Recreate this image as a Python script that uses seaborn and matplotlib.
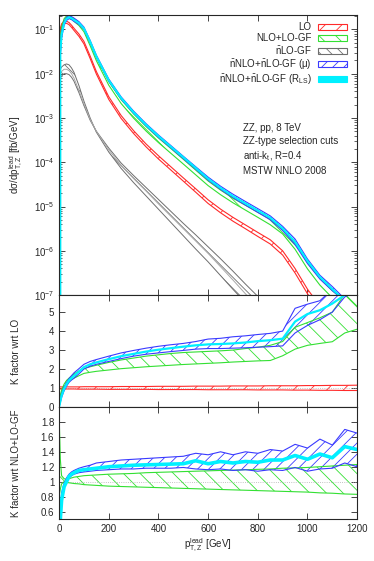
import matplotlib
matplotlib.use("Agg")
import numpy as np
import matplotlib.pyplot as plt
import matplotlib.patches as mpatches
import matplotlib.ticker as mticker
import seaborn as sns

sns.set_style("ticks")
plt.rcParams["font.family"] = ["Liberation Sans", "DejaVu Sans"]
plt.rcParams["font.size"] = 7
plt.rcParams["mathtext.default"] = "regular"
plt.rcParams["hatch.linewidth"] = 0.6

# pT of leading Z [GeV]
pt = [0, 5, 10, 20, 30, 40, 50, 60, 80, 100, 125, 150, 200, 250, 300, 350, 400,
      450, 500, 550, 600, 650, 700, 750, 800, 850, 900, 950, 1000, 1050, 1100, 1150, 1200]

# LO central, log10 of dsigma/dpT [fb/GeV]
lo_log = [-1.35, -1.0, -0.9, -0.84, -0.84, -0.87, -0.93, -1.0, -1.13, -1.3, -1.63, -1.98,
          -2.55, -2.98, -3.32, -3.62, -3.89, -4.14, -4.39, -4.64, -4.89, -5.1, -5.29, -5.46,
          -5.63, -5.8, -6.05, -6.45, -6.92, -7.3, -7.6, -7.9, -8.2]

# nLO-GF (gray), log10 values: central and two scale edges
gf_c = [-2.05, -2.0, -1.95, -1.9, -1.9, -1.93, -2.0, -2.1, -2.38, -2.68, -3.03, -3.3,
        -3.72, -4.07, -4.37, -4.65, -4.94, -5.22, -5.5, -5.78, -6.06, -6.36, -6.66, -6.97,
        -7.27, -7.57, -7.87, -8.17, -8.47, -8.77, -9.07, -9.37, -9.67]
gf_a = [-1.98, -1.9, -1.85, -1.8, -1.78, -1.8, -1.87, -1.97, -2.27, -2.62, -3.0, -3.32,
        -3.77, -4.14, -4.46, -4.76, -5.06, -5.36, -5.66, -5.96, -6.25, -6.56, -6.87, -7.17,
        -7.47, -7.77, -8.07, -8.37, -8.67, -8.97, -9.27, -9.57, -9.87]
gf_b = [-2.15, -2.1, -2.05, -2.0, -2.0, -2.02, -2.08, -2.17, -2.43, -2.72, -3.05, -3.3,
        -3.68, -4.02, -4.3, -4.57, -4.84, -5.11, -5.38, -5.64, -5.91, -6.18, -6.46, -6.75,
        -7.03, -7.3, -7.58, -7.86, -8.14, -8.42, -8.7, -8.98, -9.26]

# K factor wrt LO (middle panel)
lo_hi = [1.06, 1.06, 1.06, 1.06, 1.06, 1.06, 1.06, 1.06, 1.06, 1.07, 1.07, 1.07, 1.07, 1.08,
         1.08, 1.08, 1.09, 1.09, 1.09, 1.1, 1.1, 1.1, 1.11, 1.11, 1.11, 1.12, 1.12, 1.12,
         1.13, 1.13, 1.14, 1.14, 1.15]
lo_lo = [0.95, 0.95, 0.95, 0.95, 0.95, 0.95, 0.95, 0.95, 0.94, 0.94, 0.94, 0.94, 0.93, 0.93,
         0.93, 0.93, 0.92, 0.92, 0.92, 0.92, 0.91, 0.91, 0.91, 0.91, 0.9, 0.9, 0.9, 0.89,
         0.89, 0.88, 0.88, 0.87, 0.87]
nlo_hi = [0.3, 0.6, 0.9, 1.2, 1.4, 1.52, 1.63, 1.74, 1.9, 2.03, 2.12, 2.2, 2.35, 2.48, 2.58,
          2.68, 2.75, 2.82, 2.87, 2.9, 2.93, 2.96, 3.0, 3.08, 3.15, 3.25, 3.45, 4.2, 4.45,
          4.7, 5.0, 5.95, 5.3]
nlo_lo = [0.3, 0.55, 0.8, 1.05, 1.25, 1.36, 1.45, 1.52, 1.65, 1.77, 1.83, 1.88, 1.95, 2.02,
          2.07, 2.12, 2.16, 2.2, 2.24, 2.27, 2.3, 2.33, 2.37, 2.4, 2.43, 2.45, 2.7, 3.05,
          3.25, 3.35, 3.44, 3.9, 4.1]
mu_hi = [0.0, 0.35, 0.7, 1.05, 1.3, 1.5, 1.65, 1.8, 2.02, 2.25, 2.4, 2.5, 2.68, 2.85, 2.98,
         3.1, 3.2, 3.28, 3.35, 3.45, 3.58, 3.62, 3.7, 3.75, 3.82, 3.88, 4.0, 5.2, 5.42, 5.6,
         6.2, 6.5, 6.8]
mu_lo = [0.0, 0.25, 0.5, 0.85, 1.1, 1.3, 1.42, 1.52, 1.75, 2.0, 2.15, 2.25, 2.4, 2.55, 2.68,
         2.78, 2.85, 2.92, 2.98, 3.05, 3.08, 3.08, 3.1, 3.12, 3.15, 3.18, 3.22, 3.9, 4.3,
         4.6, 5.0, 5.8, 6.1]
rls_k = [0.0, 0.3, 0.6, 0.95, 1.2, 1.4, 1.52, 1.64, 1.87, 2.1, 2.25, 2.35, 2.52, 2.68, 2.8,
         2.92, 3.02, 3.1, 3.18, 3.25, 3.3, 3.32, 3.35, 3.4, 3.47, 3.52, 3.6, 4.5, 4.9, 5.1,
         5.45, 5.9, 6.2]

# K factor wrt NLO+LO-GF (bottom panel)
r_nlo_hi = [1.9, 1.3, 1.08, 1.04, 1.03, 1.04, 1.05, 1.06, 1.07, 1.08, 1.085, 1.09, 1.1,
            1.105, 1.11, 1.12, 1.125, 1.13, 1.135, 1.14, 1.145, 1.15, 1.155, 1.16, 1.165,
            1.17, 1.18, 1.185, 1.19, 1.2, 1.21, 1.22, 1.23]
r_nlo_lo = [0.8, 0.9, 0.97, 1.0, 0.99, 0.985, 0.98, 0.975, 0.97, 0.96, 0.955, 0.95, 0.94,
            0.935, 0.93, 0.925, 0.92, 0.915, 0.91, 0.905, 0.9, 0.895, 0.89, 0.885, 0.88,
            0.875, 0.87, 0.865, 0.86, 0.85, 0.845, 0.835, 0.83]
r_mu_hi = [0.3, 0.6, 0.85, 0.98, 1.05, 1.1, 1.13, 1.15, 1.18, 1.2, 1.22, 1.25, 1.27, 1.29,
           1.3, 1.31, 1.32, 1.33, 1.34, 1.38, 1.36, 1.4, 1.36, 1.4, 1.38, 1.43, 1.41, 1.5,
           1.45, 1.57, 1.49, 1.7, 1.65]
r_mu_lo = [0.3, 0.5, 0.8, 0.95, 1.0, 1.05, 1.08, 1.1, 1.12, 1.13, 1.14, 1.15, 1.16, 1.17,
           1.17, 1.18, 1.18, 1.18, 1.19, 1.17, 1.16, 1.17, 1.15, 1.16, 1.14, 1.16, 1.15, 1.19,
           1.14, 1.17, 1.18, 1.25, 1.2]
r_rls = [0.2, 0.5, 0.75, 0.93, 1.0, 1.07, 1.1, 1.12, 1.15, 1.16, 1.17, 1.18, 1.2, 1.21, 1.22,
         1.225, 1.23, 1.235, 1.24, 1.28, 1.24, 1.27, 1.25, 1.27, 1.26, 1.29, 1.29, 1.35, 1.3,
         1.37, 1.32, 1.47, 1.43]

RED, GREEN, GRAY, BLUE, CYAN = "#ff2a2a", "#33e033", "#6e6e6e", "#3a3aff", "#00f0ff"

x = np.array(pt)
lo = 10 ** np.array(lo_log)

fig = plt.figure(figsize=(3.74, 5.61), dpi=100)
ax1 = fig.add_axes([0.158, 0.474, 0.797, 0.499])
ax2 = fig.add_axes([0.158, 0.2745, 0.797, 0.1996], sharex=ax1)
ax3 = fig.add_axes([0.158, 0.0749, 0.797, 0.1996], sharex=ax1)


def band(ax, lo_, hi_, color, hatch, lw=0.8):
    ax.fill_between(x, lo_, hi_, facecolor="none", edgecolor=color, hatch=hatch, lw=0)
    sns.lineplot(x=x, y=lo_, ax=ax, color=color, lw=lw, estimator=None)
    sns.lineplot(x=x, y=hi_, ax=ax, color=color, lw=lw, estimator=None)


# ---- top panel: distributions
ax1.set_yscale("log")
band(ax1, 10 ** np.array(gf_b), 10 ** np.array(gf_a), GRAY, "\\\\\\", lw=0.7)
sns.lineplot(x=x, y=10 ** np.array(gf_c), ax=ax1, color="#a8a8a8", lw=0.7, estimator=None)
band(ax1, lo * np.array(lo_lo), lo * np.array(lo_hi), RED, "//")
band(ax1, lo * np.array(nlo_lo), lo * np.array(nlo_hi), GREEN, "\\\\")
band(ax1, lo * np.array(mu_lo), lo * np.array(mu_hi), BLUE, "///")
sns.lineplot(x=x, y=lo * np.array(rls_k), ax=ax1, color=CYAN, lw=1.5, estimator=None)
ax1.set_ylim(1e-7, 0.21)
ax1.set_ylabel(r"dσ/dp$_{T,Z}^{lead}$ [fb/GeV]")

handles = [
    mpatches.Patch(facecolor="none", edgecolor=RED, hatch="//", lw=0.8),
    mpatches.Patch(facecolor="none", edgecolor=GREEN, hatch="\\\\", lw=0.8),
    mpatches.Patch(facecolor="none", edgecolor=GRAY, hatch="\\\\\\", lw=0.8),
    mpatches.Patch(facecolor="none", edgecolor=BLUE, hatch="///", lw=0.8),
    mpatches.Patch(facecolor=CYAN, edgecolor=CYAN, lw=0.8),
]
labels = ["LO", "NLO+LO-GF", r"$\bar{n}$LO-GF", r"$\bar{n}$NLO+$\bar{n}$LO-GF (μ)",
          r"$\bar{n}$NLO+$\bar{n}$LO-GF (R$_{LS}$)"]
ax1.legend(handles, labels, loc="upper right", bbox_to_anchor=(0.965, 0.975), frameon=False,
           markerfirst=False, handlelength=3.0, handleheight=0.55, labelspacing=0.1,
           borderaxespad=0, borderpad=0, handletextpad=0.6, fontsize=7)
ax1.text(0.617, 0.615, "ZZ, pp, 8 TeV\nZZ-type selection cuts\nanti-k$_t$, R=0.4\nMSTW NNLO 2008",
         transform=ax1.transAxes, ha="left", va="top", fontsize=7, linespacing=1.35)

# ---- middle panel: K factor wrt LO
ax2.axhline(1, color="#b0b0b0", lw=0.6, ls=":")
band(ax2, np.array(lo_lo), np.array(lo_hi), RED, "//")
band(ax2, np.array(nlo_lo), np.array(nlo_hi), GREEN, "\\\\")
band(ax2, np.array(mu_lo), np.array(mu_hi), BLUE, "///")
sns.lineplot(x=x, y=rls_k, ax=ax2, color=CYAN, lw=1.6, estimator=None)
ax2.set_ylim(0, 5.9)
ax2.yaxis.set_major_locator(mticker.MultipleLocator(1))
ax2.set_ylabel("K factor wrt LO")

# ---- bottom panel: K factor wrt NLO+LO-GF
ax3.axhline(1, color="#b0b0b0", lw=0.6, ls=":")
band(ax3, np.array(r_nlo_lo), np.array(r_nlo_hi), GREEN, "\\\\")
band(ax3, np.array(r_mu_lo), np.array(r_mu_hi), BLUE, "///")
sns.lineplot(x=x, y=r_rls, ax=ax3, color=CYAN, lw=2.6, estimator=None)
ax3.set_ylim(0.5, 2.0)
ax3.yaxis.set_major_locator(mticker.FixedLocator([0.6, 0.8, 1.0, 1.2, 1.4, 1.6, 1.8]))
ax3.yaxis.set_major_formatter(mticker.FormatStrFormatter("%g"))
ax3.set_ylabel("K factor wrt NLO+LO-GF")
ax3.set_xlabel(r"p$_{T,Z}^{lead}$ [GeV]", labelpad=2)

ax1.set_xlim(0, 1200)
ax1.xaxis.set_major_locator(mticker.MultipleLocator(200))
for ax in (ax1, ax2, ax3):
    ax.tick_params(which="both", direction="in", top=True, right=True, labelsize=7)
    ax.tick_params(which="major", length=4, width=0.6)
    ax.tick_params(which="minor", length=2, width=0.5)
    for s in ax.spines.values():
        s.set_linewidth(0.8)
    ax.yaxis.label.set_va("center")
    ax.yaxis.set_label_coords(-0.145, 0.5)
for ax in (ax1, ax2):
    ax.tick_params(labelbottom=False)
    ax.set_xlabel("")

fig.savefig("out.png", dpi=100)
